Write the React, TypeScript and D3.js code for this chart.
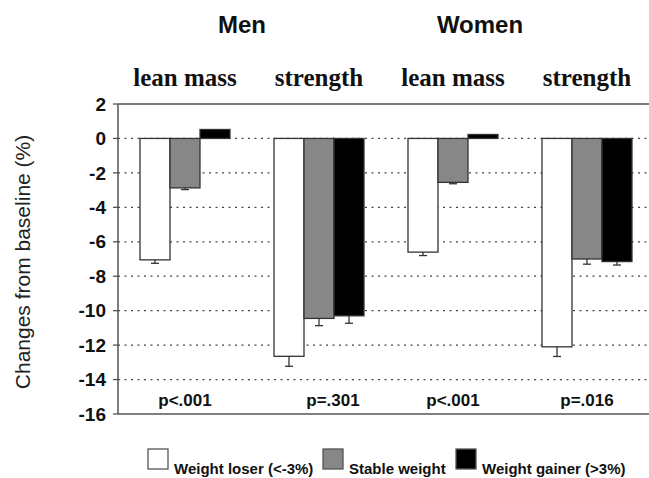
import React, { useEffect, useRef } from 'react';
import * as d3 from 'd3';

const groups = ['Men lean mass', 'Men strength', 'Women lean mass', 'Women strength'];
const groupLabels = ['lean mass', 'strength', 'lean mass', 'strength'];
const pValues = ['p<.001', 'p=.301', 'p<.001', 'p=.016'];
const series = ['Weight loser (<-3%)', 'Stable weight', 'Weight gainer (>3%)'];
const seriesColors = ['#ffffff', '#878787', '#000000'];

// % change from baseline per group
const loser = [-7.05, -12.65, -6.6, -12.1];
const stable = [-2.87, -10.45, -2.55, -7.0];
const gainer = [0.52, -10.3, 0.23, -7.15];
const loserErr = [0.2, 0.58, 0.2, 0.56];
const stableErr = [0.1, 0.42, 0.08, 0.3];
const gainerErr = [0, 0.43, 0, 0.2];

const yTicks = [2, 0, -2, -4, -6, -8, -10, -12, -14, -16];
const gridTicks = [0, -2, -4, -6, -8, -10, -12, -14];

function App() {
  const ref = useRef(null);
  const width = 649;
  const height = 478;
  const left = 118;
  const top = 104;
  const bottom = 414;

  useEffect(() => {
    const svg = d3.select(ref.current);
    svg.selectAll('*').remove();

    const values = [loser, stable, gainer];
    const errors = [loserErr, stableErr, gainerErr];

    const x = d3.scaleBand()
      .domain(groups)
      .range([left, 654])
      .paddingInner(44 / 134)
      .paddingOuter(22 / 134);

    const xs = d3.scaleBand()
      .domain(series)
      .range([0, x.bandwidth()]);

    const y = d3.scaleLinear()
      .domain([-16, 2])
      .range([bottom, top]);

    const sans = 'Arial, "Liberation Sans", Helvetica, sans-serif';
    const serif = '"Times New Roman", "Liberation Serif", serif';

    // dotted grid
    svg.append('g')
      .selectAll('line')
      .data(gridTicks)
      .enter()
      .append('line')
      .attr('x1', left)
      .attr('x2', width)
      .attr('y1', d => y(d))
      .attr('y2', d => y(d))
      .attr('stroke', '#444')
      .attr('stroke-width', 1.3)
      .attr('stroke-dasharray', '2,4.5');

    // frame lines
    svg.append('line')
      .attr('x1', left).attr('x2', width)
      .attr('y1', y(2)).attr('y2', y(2))
      .attr('stroke', '#555').attr('stroke-width', 1.5);
    svg.append('line')
      .attr('x1', left).attr('x2', width)
      .attr('y1', y(-16)).attr('y2', y(-16))
      .attr('stroke', '#555').attr('stroke-width', 1.5);

    // y axis
    svg.append('line')
      .attr('x1', left).attr('x2', left)
      .attr('y1', y(2)).attr('y2', y(-16))
      .attr('stroke', '#555').attr('stroke-width', 1.5);
    const tick = svg.append('g')
      .selectAll('g')
      .data(yTicks)
      .enter()
      .append('g')
      .attr('transform', d => `translate(${left},${y(d)})`);
    tick.append('line')
      .attr('x1', -5).attr('x2', 0)
      .attr('stroke', '#555').attr('stroke-width', 1.3);
    tick.append('text')
      .attr('x', -12)
      .attr('dy', '0.35em')
      .attr('text-anchor', 'end')
      .attr('font-family', sans)
      .attr('font-weight', 'bold')
      .attr('font-size', 19)
      .attr('fill', '#111')
      .text(d => String(d));

    // bars
    series.forEach((s, si) => {
      const g = svg.append('g');
      g.selectAll('rect')
        .data(groups)
        .enter()
        .append('rect')
        .attr('x', (d) => x(d) + xs(s))
        .attr('width', xs.bandwidth())
        .attr('y', (d, i) => y(Math.max(0, values[si][i])))
        .attr('height', (d, i) => Math.abs(y(values[si][i]) - y(0)))
        .attr('fill', seriesColors[si])
        .attr('stroke', '#333')
        .attr('stroke-width', 1.3);

      // error bars (downward only)
      const eb = g.selectAll('g.err')
        .data(groups.filter((d, i) => errors[si][i] > 0 && values[si][i] < 0))
        .enter()
        .append('g');
      eb.append('line')
        .attr('x1', d => x(d) + xs(s) + xs.bandwidth() / 2)
        .attr('x2', d => x(d) + xs(s) + xs.bandwidth() / 2)
        .attr('y1', d => y(values[si][groups.indexOf(d)]))
        .attr('y2', d => { const i = groups.indexOf(d); return y(values[si][i] - errors[si][i]); })
        .attr('stroke', '#333').attr('stroke-width', 1.3);
      eb.append('line')
        .attr('x1', d => x(d) + xs(s) + xs.bandwidth() / 2 - 4)
        .attr('x2', d => x(d) + xs(s) + xs.bandwidth() / 2 + 4)
        .attr('y1', d => { const i = groups.indexOf(d); return y(values[si][i] - errors[si][i]); })
        .attr('y2', d => { const i = groups.indexOf(d); return y(values[si][i] - errors[si][i]); })
        .attr('stroke', '#333').attr('stroke-width', 1.3);
    });

    // p values
    svg.append('g')
      .selectAll('text')
      .data(groups)
      .enter()
      .append('text')
      .attr('x', (d, i) => x(d) + x.bandwidth() / 2 + (i === 1 ? 14 : 0))
      .attr('y', 406)
      .attr('text-anchor', 'middle')
      .style('font-family', sans)
      .style('font-weight', 'bold')
      .style('font-size', '17px')
      .attr('fill', '#111')
      .text((d, i) => pValues[i]);

    // group sub labels
    svg.append('g')
      .selectAll('text')
      .data(groups)
      .enter()
      .append('text')
      .attr('x', d => x(d) + x.bandwidth() / 2)
      .attr('y', 86)
      .attr('text-anchor', 'middle')
      .style('font-family', serif)
      .style('font-weight', 'bold')
      .style('font-size', '25px')
      .attr('fill', '#111')
      .text((d, i) => groupLabels[i]);

    // sex headers
    svg.append('text')
      .attr('x', 242).attr('y', 33)
      .attr('text-anchor', 'middle')
      .style('font-family', sans).style('font-weight', 'bold').style('font-size', '24px')
      .attr('fill', '#111')
      .text('Men');
    svg.append('text')
      .attr('x', 480).attr('y', 33)
      .attr('text-anchor', 'middle')
      .style('font-family', sans).style('font-weight', 'bold').style('font-size', '24px')
      .attr('fill', '#111')
      .text('Women');

    // y title
    svg.append('text')
      .attr('transform', `translate(30, 262) rotate(-90)`)
      .attr('text-anchor', 'middle')
      .style('font-family', sans)
      .style('font-size', '21px')
      .attr('fill', '#222')
      .text('Changes from baseline (%)');

    // legend
    const legendX = [148, 323, 456];
    const lg = svg.append('g')
      .selectAll('g')
      .data(series)
      .enter()
      .append('g')
      .attr('transform', (d, i) => `translate(${legendX[i]}, 449)`);
    lg.append('rect')
      .attr('width', 20).attr('height', 20)
      .attr('fill', (d, i) => seriesColors[i])
      .attr('stroke', '#555').attr('stroke-width', 1.3);
    lg.append('text')
      .attr('x', 26).attr('y', 25)
      .style('font-family', sans).style('font-weight', 'bold').style('font-size', '15px')
      .attr('fill', '#111')
      .text(d => d);
  }, []);

  return (
    <svg
      ref={ref}
      width={width}
      height={height}
      style={{ position: 'absolute', left: 0, top: 0, background: '#fff' }}
    />
  );
}

export default App;
